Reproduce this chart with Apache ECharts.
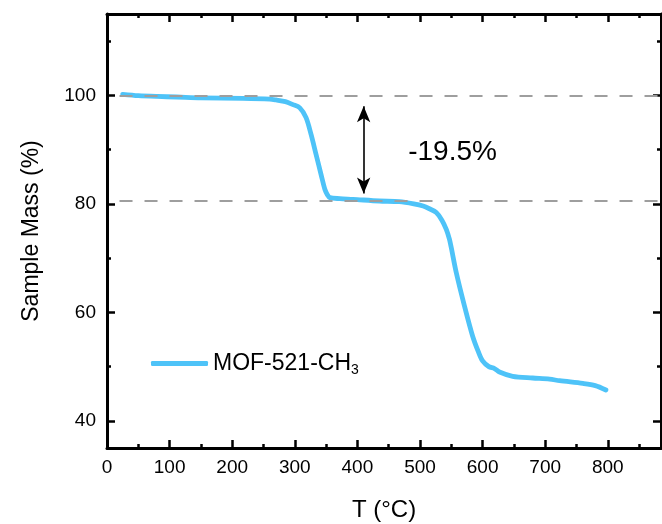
<!DOCTYPE html>
<html><head><meta charset="utf-8">
<script src="https://cdn.jsdelivr.net/npm/echarts@6/dist/echarts.min.js"></script>
<style>html,body{margin:0;padding:0;background:#fff}#c{width:662px;height:524px}</style>
</head><body><div id="c"></div>
<script>
// ---- data ----
const temperature = [25, 50, 80, 111, 150, 217, 260, 270, 285, 297, 308, 318, 326, 334, 342, 348, 352, 356, 372, 393, 435, 467, 490, 505, 515, 526, 535, 542, 547, 550, 558, 571, 584, 593, 600, 610, 619, 627, 648, 680, 707, 723, 760, 780, 797];
const sampleMass = [100.2, 99.95, 99.8, 99.7, 99.55, 99.45, 99.3, 99.15, 98.85, 98.3, 97.7, 95.9, 92.8, 89.1, 85.4, 82.7, 81.7, 81.15, 80.97, 80.84, 80.53, 80.4, 80.0, 79.6, 79.1, 78.4, 77.0, 75.3, 73.5, 71.9, 67.3, 61.2, 55.65, 52.8, 51.05, 50.0, 49.65, 49.0, 48.2, 47.9, 47.7, 47.4, 46.9, 46.5, 45.7];
const seriesName = 'MOF-521-CH3';
const xRange = [0, 885];
const yRange = [35, 115];
const xMajor = 100, xMinor = 50;
const yMajorSplits = 4, yMinorSplits = 8;
const dashLevels = [100, 80.6];
const dashFromT = 20;
const arrowT = 410;
const arrowSpan = [98.0, 81.9];
const deltaLabel = '-19.5%';
const deltaLabelAt = [552, 89.6];
const xName = 'T (°C)';
const yName = 'Sample Mass (%)';

// ---- chart ----
const FONT = '"Liberation Sans", Arial, sans-serif';
const BLUE = '#4ec3f8';
const chart = echarts.init(document.getElementById('c'), null, {renderer: 'canvas'});
const lineSt = {show: true, onZero: false, lineStyle: {color: '#000', width: 3}};
const noLine = {show: false, onZero: false};
function xAx(pos, interval, len, extra) {
  return Object.assign({
    type: 'value', position: pos, min: xRange[0], max: xRange[1], interval: interval,
    axisLine: lineSt, splitLine: {show: false},
    axisTick: {show: true, inside: true, length: len, lineStyle: {color: '#000', width: 2.5}},
    axisLabel: {show: false}
  }, extra || {});
}
function yAx(pos, splits, len, extra) {
  const iv = 20 * yMajorSplits / splits;
  return Object.assign({
    type: 'value', position: pos, min: yRange[0], max: yRange[1], splitNumber: splits,
    minInterval: iv, maxInterval: iv,
    axisLine: lineSt, splitLine: {show: false},
    axisTick: {show: true, inside: true, length: len, lineStyle: {color: '#000', width: 2.5}},
    axisLabel: {show: false}
  }, extra || {});
}
const subscriptName = n => {
  const m = n.match(/^(.*?)(\d+)$/);
  return m ? '{m|' + m[1] + '}{s|' + m[2] + '}' : '{m|' + n + '}';
};

chart.setOption({
  animation: false,
  backgroundColor: '#fff',
  textStyle: {fontFamily: FONT},
  grid: {left: 107, right: 1, top: 14, bottom: 76, containLabel: false, outerBoundsMode: 'none'},
  xAxis: [
    xAx('bottom', xMajor, 8, {
      axisLabel: {show: true, color: '#000', fontSize: 19, fontFamily: FONT, margin: 10, showMaxLabel: false},
      name: xName, nameLocation: 'middle', nameGap: 50,
      nameTextStyle: {color: '#000', fontSize: 24, fontFamily: FONT}
    }),
    xAx('bottom', xMinor, 4, {axisLine: noLine}),
    xAx('top', xMajor, 8),
    xAx('top', xMinor, 4, {axisLine: noLine})
  ],
  yAxis: [
    yAx('left', yMajorSplits, 8, {
      axisLabel: {show: true, color: '#000', fontSize: 19, fontFamily: FONT, margin: 11, showMinLabel: false, showMaxLabel: false},
      name: yName, nameLocation: 'middle', nameGap: 64,
      nameTextStyle: {color: '#000', fontSize: 23, fontFamily: FONT}
    }),
    yAx('left', yMinorSplits, 4, {axisLine: noLine}),
    yAx('right', yMajorSplits, 8),
    yAx('right', yMinorSplits, 4, {axisLine: noLine})
  ],
  legend: {
    data: [seriesName], left: 146, top: 347, icon: 'roundRect', itemWidth: 57, itemHeight: 5,
    formatter: subscriptName,
    textStyle: {
      color: '#000', fontFamily: FONT, fontSize: 23,
      rich: {
        m: {fontSize: 23, fontFamily: FONT, color: '#000', lineHeight: 28},
        s: {fontSize: 14, fontFamily: FONT, color: '#000', verticalAlign: 'bottom', lineHeight: 14}
      }
    }
  },
  series: [
    {
      name: 'annot', type: 'line', data: [], xAxisIndex: 0, yAxisIndex: 0, silent: true,
      markLine: {
        silent: true, symbol: 'none', label: {show: false},
        lineStyle: {color: '#9e9e9e', width: 2, type: [13, 12]},
        data: dashLevels.map(v => [{coord: [dashFromT, v]}, {coord: [xRange[1], v]}])
      }
    },
    {
      name: 'arrow', type: 'line', data: [], xAxisIndex: 0, yAxisIndex: 0, silent: true,
      markLine: {
        silent: true, symbol: ['arrow', 'arrow'], symbolSize: [10, 16], label: {show: false},
        lineStyle: {color: '#000', width: 1.6, type: 'solid'},
        data: [[{coord: [arrowT, arrowSpan[0]]}, {coord: [arrowT, arrowSpan[1]]}]]
      },
      markPoint: {
        silent: true, symbol: 'circle', symbolSize: 0,
        label: {show: true, position: 'inside', formatter: deltaLabel, color: '#000', fontSize: 28, fontFamily: FONT},
        data: [{coord: deltaLabelAt}]
      }
    },
    {
      name: seriesName, type: 'line', xAxisIndex: 0, yAxisIndex: 0,
      data: temperature.map((t, i) => [t, sampleMass[i]]),
      showSymbol: false, symbol: 'none', smooth: 0.3,
      lineStyle: {color: BLUE, width: 4.8, cap: 'round', join: 'round'},
      itemStyle: {color: BLUE}
    }
  ]
});
</script></body></html>
